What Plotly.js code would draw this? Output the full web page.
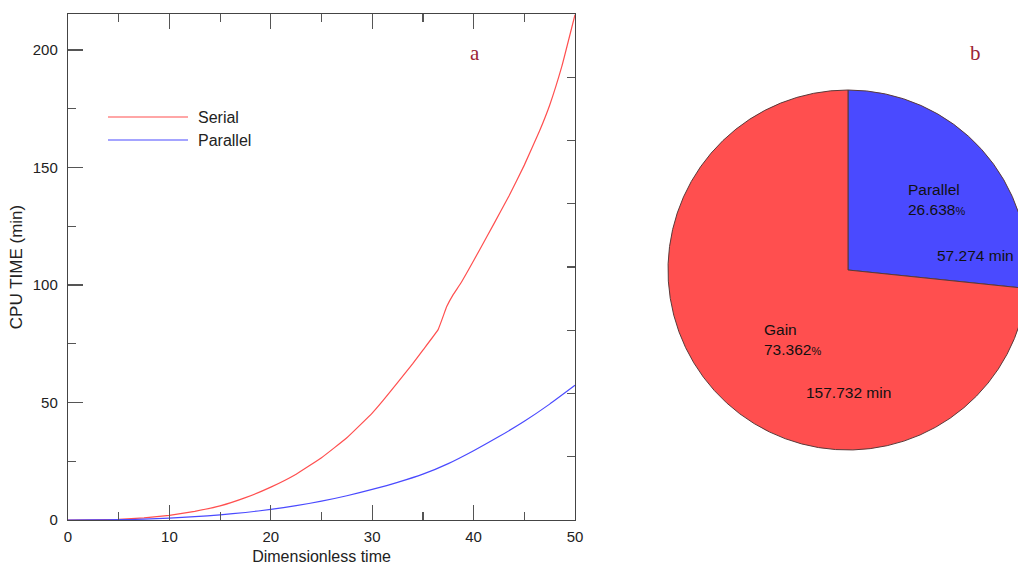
<!DOCTYPE html>
<html>
<head>
<meta charset="utf-8">
<script src="https://cdn.plot.ly/plotly-3.0.1.min.js"></script>
<style>
html, body { margin: 0; padding: 0; overflow: hidden; background: #fff; }
#chart { width: 1040px; height: 566px; }
</style>
</head>
<body>
<div id="chart"></div>
<script>
// ---- data ----
const serialTime = [0, 2.5, 5, 7.5, 10, 12.5, 15, 17.5, 20, 22.5, 25, 27.5, 30, 31.1, 32.5, 34, 35, 36.5, 37.35, 38, 38.7, 39.5, 40.6, 42, 43.5, 45, 46.5, 47.5, 48.7, 50];
const serialCpu  = [0, 0.05, 0.3, 0.9, 2, 3.7, 6, 9.5, 14, 19.5, 26.5, 35, 45.5, 51, 58.5, 66.5, 72.3, 81, 90.8, 96, 100.5, 106.5, 115, 126, 138, 151, 165.5, 176.5, 193, 215];
const parallelTime = [0, 2.5, 5, 7.5, 10, 12.5, 15, 17.5, 20, 22.5, 25, 27.5, 30, 32.5, 35, 37.5, 40, 42.5, 45, 47.5, 50];
const parallelCpu  = [0, 0.02, 0.12, 0.35, 0.8, 1.4, 2.2, 3.2, 4.5, 6.1, 8, 10.3, 13, 16, 19.5, 24, 29.5, 35.5, 42, 49.3, 57.3];
const seriesNames = ["Serial", "Parallel"];
const pieLabels = ["Parallel", "Gain"];
const pieMinutes = [57.274, 157.732];
const panelLetters = ["a", "b"];

// ---- geometry helpers (page px -> paper) ----
const W = 1040, H = 566;
const px = x => x / W;
const py = y => 1 - y / H;

const RED = "#ff4f4f", BLUE = "#4a4aff";
const total = pieMinutes.reduce((a, b) => a + b, 0);
const pct = pieMinutes.map(v => (v / total * 100).toFixed(3));

const traces = [
  {x: serialTime, y: serialCpu, name: seriesNames[0], type: "scatter", mode: "lines",
   line: {color: RED, width: 1.2, shape: "spline", smoothing: 0.3}, xaxis: "x", yaxis: "y", showlegend: false},
  {x: parallelTime, y: parallelCpu, name: seriesNames[1], type: "scatter", mode: "lines",
   line: {color: BLUE, width: 1.2, shape: "spline", smoothing: 0.5}, xaxis: "x", yaxis: "y", showlegend: false},
  {x: [], y: [], xaxis: "x", yaxis: "y2", showlegend: false, hoverinfo: "skip", type: "scatter"},
  {type: "pie", labels: pieLabels, values: pieMinutes, sort: false, direction: "clockwise",
   rotation: 0, textinfo: "none", hoverinfo: "label+value+percent", showlegend: false,
   marker: {colors: [BLUE, RED], line: {color: "#5a3a3a", width: 1}},
   domain: {x: [px(668), px(1028)], y: [py(450), py(90)]}}
];

const SANS = "Liberation Sans, Arial, sans-serif";
const tickFont = {family: SANS, size: 15, color: "#222"};
const textFont = {family: SANS, size: 16, color: "#222"};
const pieFont = {family: SANS, size: 15.5, color: "#111"};
const letterFont = {family: "Liberation Serif, Times New Roman, serif", size: 21, color: "#9b2335"};
const axisCol = "#444";

function note(text, x, y, font, anchor) {
  return {text: text, x: px(x), y: py(y), xref: "paper", yref: "paper",
          xanchor: anchor || "center", yanchor: "middle", align: "left",
          showarrow: false, font: font};
}

const pctSpan = "<span style='font-size:11px'>%</span>";
const annotations = [
  note(panelLetters[0], 475, 53, letterFont),
  note(panelLetters[1], 975, 53, letterFont),
  note(seriesNames[0], 196, 117, textFont, "left"),
  note(seriesNames[1], 196, 140, textFont, "left"),
  note(pieLabels[0] + "<br>" + pct[0] + pctSpan, 906, 199, pieFont, "left"),
  note(pieMinutes[0] + " min", 975, 255, pieFont),
  note(pieLabels[1] + "<br>" + pct[1] + pctSpan, 762, 339, pieFont, "left"),
  note(pieMinutes[1] + " min", 848, 392, pieFont)
];

const shapes = [
  {type: "line", xref: "paper", yref: "paper", x0: px(108), x1: px(188), y0: py(117), y1: py(117),
   line: {color: RED, width: 1.2}},
  {type: "line", xref: "paper", yref: "paper", x0: px(108), x1: px(188), y0: py(140), y1: py(140),
   line: {color: BLUE, width: 1.2}}
];

const layout = {
  width: W, height: H,
  margin: {l: 0, r: 0, t: 0, b: 0},
  paper_bgcolor: "#fff", plot_bgcolor: "#fff",
  showlegend: false,
  xaxis: {
    domain: [px(68), px(575)], range: [0, 50], dtick: 10, tick0: 0,
    ticks: "inside", ticklen: 15, tickwidth: 1.2, tickcolor: "#555",
    minor: {dtick: 5, ticks: "inside", ticklen: 8, tickwidth: 1.2, tickcolor: "#555", showgrid: false},
    showline: true, linecolor: axisCol, linewidth: 1.2, mirror: "ticks",
    showgrid: false, zeroline: false, tickfont: tickFont, ticklabelstandoff: 3,
    title: {text: "Dimensionless time", font: textFont, standoff: 6},
    anchor: "y", fixedrange: true
  },
  yaxis: {
    domain: [py(520), py(14)], range: [0, 215.3], dtick: 50, tick0: 0,
    ticks: "inside", ticklen: 15, tickwidth: 1.2, tickcolor: "#555",
    minor: {dtick: 25, ticks: "inside", ticklen: 8, tickwidth: 1.2, tickcolor: "#555", showgrid: false},
    showline: true, linecolor: axisCol, linewidth: 1.2, mirror: true,
    showgrid: false, zeroline: false, tickfont: tickFont, ticklabelstandoff: 6,
    title: {text: "CPU TIME (min)", font: {family: SANS, size: 17, color: "#222"}, standoff: 5},
    anchor: "x", fixedrange: true
  },
  yaxis2: {
    overlaying: "y", side: "right", anchor: "x", range: [0, 8], dtick: 1,
    ticks: "inside", ticklen: 8, tickwidth: 1.2, tickcolor: "#555",
    showticklabels: false, showgrid: false, zeroline: false, showline: false, fixedrange: true
  },
  annotations: annotations,
  shapes: shapes
};

Plotly.newPlot("chart", traces, layout, {displayModeBar: false, staticPlot: true});
</script>
</body>
</html>
